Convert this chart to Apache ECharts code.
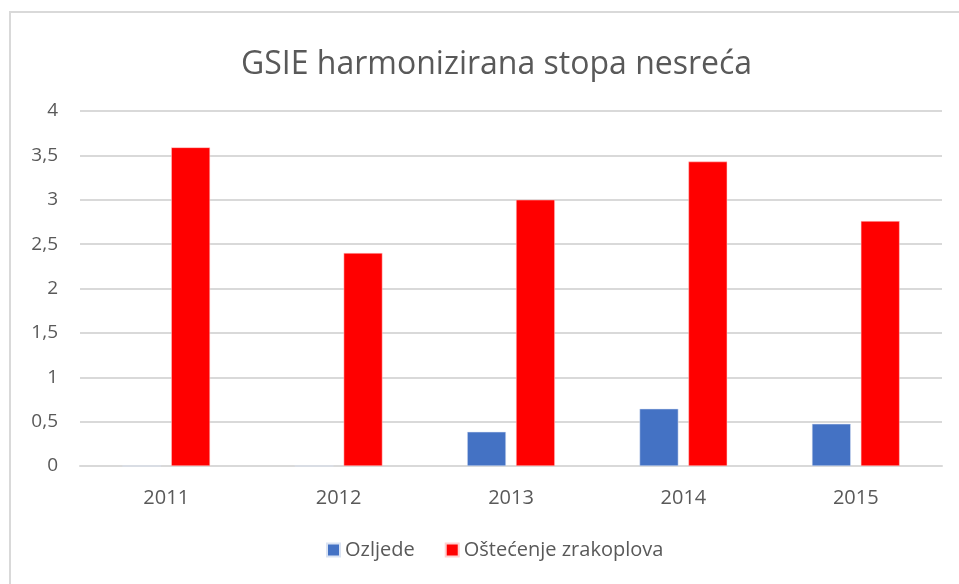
<!DOCTYPE html>
<html><head><meta charset="utf-8">
<script src="https://cdn.jsdelivr.net/npm/echarts@6/dist/echarts.min.js"></script>
<style>html,body{margin:0;padding:0;background:#fff;}#c{width:959px;height:584px;}</style>
</head><body><div id="c"></div>
<script>
const categories = ['2011','2012','2013','2014','2015'];
const ozljede = [0, 0, 0.385, 0.645, 0.475];
const ostecenje = [3.59, 2.40, 3.00, 3.43, 2.76];
const seriesNames = ['Ozljede','Oštećenje zrakoplova'];
const yTicks = {min:0, max:4, interval:0.5};

const chart = echarts.init(document.getElementById('c'), null, {renderer:'canvas'});
const font = '"Open Sans", sans-serif';
chart.setOption({
  animation:false,
  graphic:[{type:'rect', shape:{x:10,y:12,width:960,height:600}, style:{fill:'none', stroke:'#d9d9d9', lineWidth:2}, silent:true}],
  title:{text:'GSIE harmonizirana stopa nesreća', left:236, top:44, textStyle:{fontFamily:font, fontSize:32, fontWeight:'normal', color:'#595959'}},
  legend:{bottom:19, left:321, itemWidth:13, itemHeight:13, itemGap:30, icon:'rect', textStyle:{fontFamily:font, fontSize:20, color:'#595959'}, data:seriesNames},
  grid:{left:80, right:17, top:111, bottom:118, containLabel:false},
  xAxis:{type:'category', data:categories, axisLine:{lineStyle:{color:'#d9d9d9', width:2}}, axisTick:{show:false}, axisLabel:{fontFamily:font, fontSize:20, color:'#595959', margin:22}},
  yAxis:{type:'value', min:yTicks.min, max:yTicks.max, interval:yTicks.interval, axisLine:{show:false}, axisTick:{show:false}, splitLine:{lineStyle:{color:'#d9d9d9', width:2}}, axisLabel:{fontFamily:font, fontSize:19, color:'#595959', margin:22, formatter:v=>String(v).replace('.',',')}},
  series:[
    {name:seriesNames[0], type:'bar', data:ozljede, barWidth:'22.5%', barGap:'26%', itemStyle:{color:'#4472C4', borderColor:'#dae3f3', borderWidth:0.5}},
    {name:seriesNames[1], type:'bar', data:ostecenje, barWidth:'22.5%', barGap:'26%', itemStyle:{color:'#FF0000', borderColor:'#ffd0d0', borderWidth:0.5}}
  ]
});
</script></body></html>
